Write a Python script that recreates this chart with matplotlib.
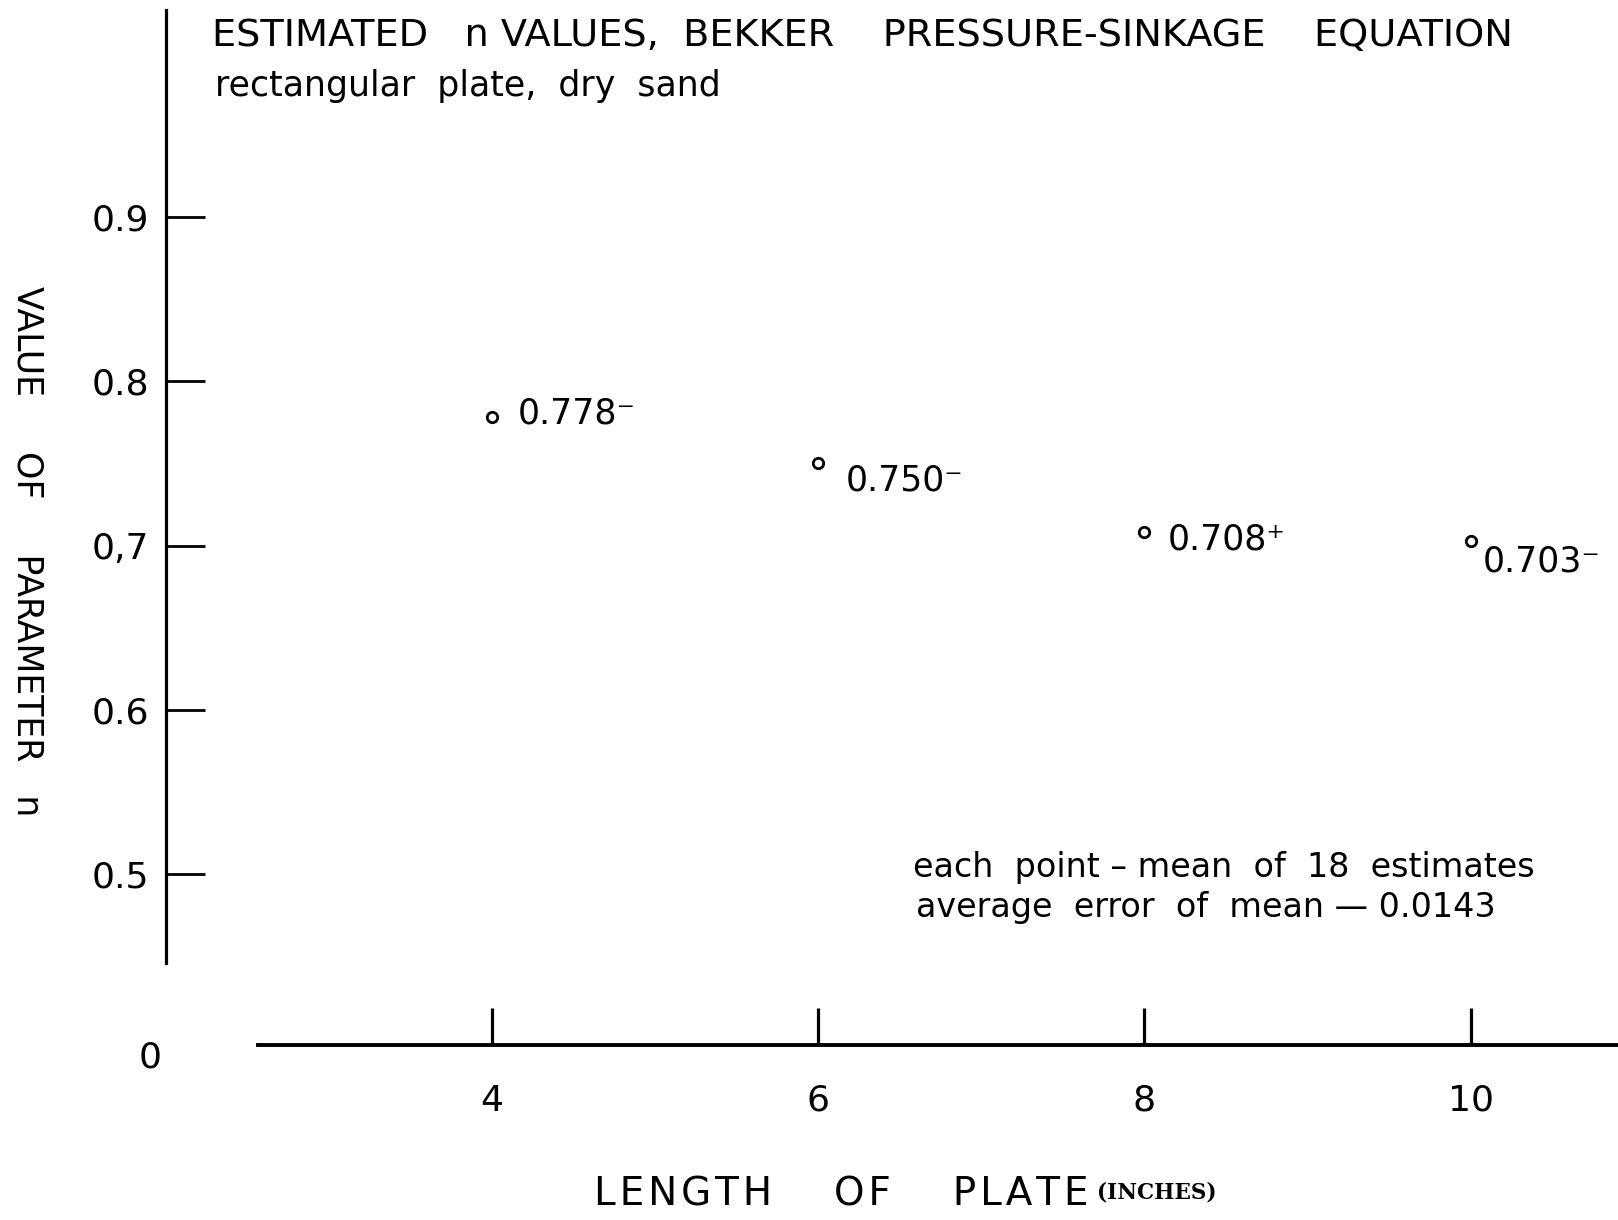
import matplotlib
matplotlib.use("Agg")
import matplotlib.pyplot as plt

# plate length (inches) and estimated n
plate_length = [4, 6, 8, 10]
n_values = [0.778, 0.750, 0.708, 0.703]
n_labels = ["0.778\u207b", "0.750\u207b", "0.708\u207a", "0.703\u207b"]
# label offsets from each point, in points
label_offsets = [(19, 3), (20, -12), (17, -5), (9, -15)]

y_ticks = [0.5, 0.6, 0.7, 0.8, 0.9]
y_ticklabels = ["0.5", "0.6", "0,7", "0.8", "0.9"]
x_ticks = [4, 6, 8, 10]
x_ticklabels = ["4", "6", "8", "10"]

plt.rcParams["font.family"] = "DejaVu Sans"

fig = plt.figure(figsize=(16.18, 12.20), dpi=100)
ax = fig.add_axes([0.1026, 0.1434, 0.8974, 0.8484])
ax.set_xlim(2.003, 10.903)
ax.set_ylim(0.3959, 1.026)

for side in ["top", "right"]:
    ax.spines[side].set_visible(False)
ax.spines["left"].set_linewidth(2.3)
ax.spines["left"].set_bounds(0.4458, 1.026)
ax.spines["bottom"].set_linewidth(2.8)
ax.spines["bottom"].set_bounds(2.567, 10.903)

ax.set_yticks(y_ticks)
ax.set_yticklabels(y_ticklabels)
ax.set_xticks(x_ticks)
ax.set_xticklabels(x_ticklabels)
ax.tick_params(axis="y", direction="in", length=28, width=2.0, pad=12, labelsize=26)
ax.tick_params(axis="x", direction="in", length=27, width=2.3, pad=28, labelsize=26)

ax.plot(plate_length, n_values, linestyle="none", marker="o", markersize=7.5,
        markerfacecolor="white", markeredgecolor="black", markeredgewidth=2.0)

for x, y, lab, off in zip(plate_length, n_values, n_labels, label_offsets):
    ax.annotate(lab, (x, y), xytext=off, textcoords="offset points",
                ha="left", va="center", fontsize=25)

fig.text(212 / 1618, 1 - 36 / 1220,
         "ESTIMATED   n VALUES,  BEKKER    PRESSURE-SINKAGE    EQUATION",
         ha="left", va="center", fontsize=27.5)
fig.text(215 / 1618, 1 - 86 / 1220, "rectangular  plate,  dry  sand",
         ha="left", va="center", fontsize=25)

fig.text(913 / 1618, 1 - 867 / 1220, "each  point \u2013 mean  of  18  estimates",
         ha="left", va="center", fontsize=24)
fig.text(916 / 1618, 1 - 908 / 1220, "average  error  of  mean \u2014 0.0143",
         ha="left", va="center", fontsize=24)

fig.text(150 / 1618, 1 - 1058 / 1220, "0", ha="center", va="center", fontsize=26)

fig.text(27 / 1618, 1 - 551 / 1220, "VALUE     OF     PARAMETER   n", rotation=-90,
         ha="center", va="center", fontsize=25)

fig.text(1089 / 1618, 1 - 1195 / 1220,
         "L\u200aE\u200aN\u200aG\u200aT\u200aH     O\u200aF     P\u200aL\u200aA\u200aT\u200aE",
         ha="right", va="center", fontsize=28)
fig.text(1097 / 1618, 1 - 1193 / 1220, "(INCHES)", family="DejaVu Serif",
         ha="left", va="center", fontsize=15.5, fontweight="bold")

fig.savefig("out.png", dpi=100)
